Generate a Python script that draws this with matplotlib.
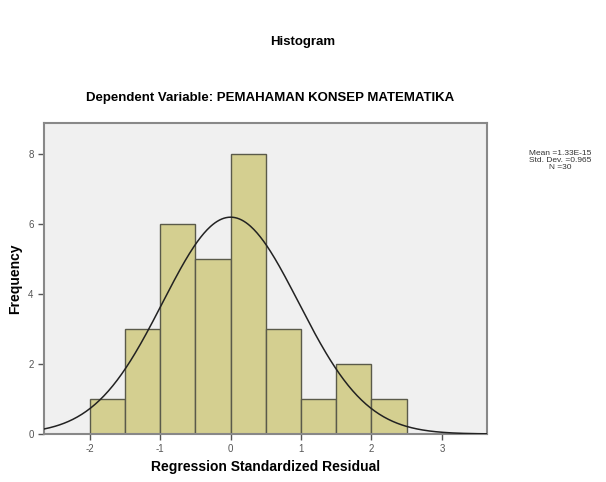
import numpy as np
import matplotlib
matplotlib.use("Agg")
import matplotlib.pyplot as plt

plt.rcParams['font.family'] = ['Liberation Sans', 'DejaVu Sans']
plt.rcParams['axes.unicode_minus'] = False

bin_edges = [-2.0, -1.5, -1.0, -0.5, 0.0, 0.5, 1.0, 1.5, 2.0, 2.5]
frequencies = [1, 3, 6, 5, 8, 3, 1, 2, 1]
mean_val = 1.33e-15
std_val = 0.965
n_val = 30
x_ticks = [-2, -1, 0, 1, 2, 3]
y_ticks = [0, 2, 4, 6, 8]

fig = plt.figure(figsize=(6.06, 4.82), dpi=100)
fig.patch.set_facecolor("white")
ax = fig.add_axes([0.0726, 0.0996, 0.731, 0.6456])
ax.set_facecolor("#f0f0f0")

widths = np.diff(bin_edges)
ax.bar(bin_edges[:-1], frequencies, width=widths, align="edge",
       color="#d4cf90", edgecolor="#5a5a4a", linewidth=1.0, zorder=2)

xs = np.linspace(-2.65, 3.64, 400)
bw = widths[0]
ys = n_val * bw / (std_val * np.sqrt(2 * np.pi)) * np.exp(-0.5 * ((xs - mean_val) / std_val) ** 2)
ax.plot(xs, ys, color="#222222", linewidth=1.1, zorder=3)

ax.set_xlim(-2.65, 3.64)
ax.set_ylim(0, 8.9)
ax.set_xticks(x_ticks)
ax.set_yticks(y_ticks)
ax.tick_params(axis="both", labelsize=7, colors="#555555", length=4, width=1, direction="out")
for s in ax.spines.values():
    s.set_color("#888888")
    s.set_linewidth(1.5)

ax.set_xlabel("Regression Standardized Residual", fontsize=10, fontweight="bold", labelpad=4)
ax.set_ylabel("Frequency", fontsize=10, fontweight="bold", labelpad=4)

fig.text(0.5, 0.912, "Histogram", ha="center", va="center", fontsize=9.5, fontweight="bold")
fig.text(0.445, 0.797, "Dependent Variable: PEMAHAMAN KONSEP MATEMATIKA", ha="center",
         va="center", fontsize=9.5, fontweight="bold")
fig.text(0.925, 0.668, "Mean =1.33E-15\nStd. Dev. =0.965\nN =30", ha="center", va="center",
         fontsize=6, linespacing=1.0, color="#333333")

fig.savefig("out.png", dpi=100)
